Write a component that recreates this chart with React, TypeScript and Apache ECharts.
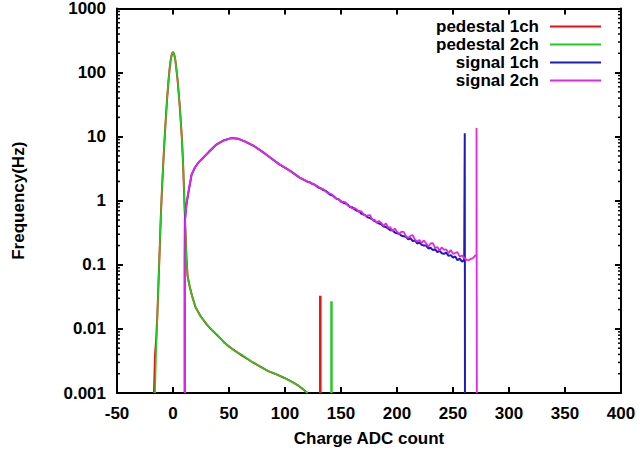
import React, { useEffect, useRef } from "react";
import * as echarts from "echarts";

const seriesNames = ["pedestal 1ch", "pedestal 2ch", "signal 1ch", "signal 2ch"];
const seriesColors = ["#f01010", "#22cc22", "#1c1cbe", "#e626e6"];

const xTicks = { min: -50, max: 400, step: 50 };
const yTicks = { min: 0.001, max: 1000 };

const pedestal1ch: [number, number][] = [
  [-17, 0.001], [-16, 0.004], [-15, 0.007], [-14, 0.016], [-13, 0.05], [-12, 0.15], [-11, 0.5],
  [-10, 1.3], [-9, 3], [-8, 6.5], [-7, 13], [-6, 25], [-5, 45], [-4, 75], [-3, 115], [-2, 160],
  [-1, 195], [0, 210], [1, 195], [2, 160], [3, 115], [4, 80], [5, 50], [6, 30], [7, 17], [8, 9],
  [9, 3.8], [10, 1.2], [11, 0.38], [12, 0.13], [13, 0.068], [14, 0.055], [15, 0.045], [17, 0.033],
  [20, 0.022], [25, 0.0155], [30, 0.0118], [35, 0.0095], [40, 0.0078], [46, 0.0061], [50, 0.0053],
  [55, 0.0046], [61, 0.0039], [70, 0.0031], [76, 0.0027], [85, 0.0022], [91, 0.002], [100, 0.0017],
  [106, 0.0015], [112, 0.0013], [116, 0.00115], [120, 0.001],
];
const pedestal1chSpike: [number, number][] = [[131.5, 0.001], [131.5, 0.033]];

const pedestal2ch: [number, number][] = [
  [-16, 0.001], [-15, 0.005], [-14, 0.015], [-13, 0.048], [-12, 0.16], [-11, 0.48],
  [-10, 1.35], [-9, 3.1], [-8, 6.4], [-7, 13.5], [-6, 24], [-5, 46], [-4, 74], [-3, 117], [-2, 158],
  [-1, 197], [0, 208], [1, 193], [2, 162], [3, 113], [4, 81], [5, 49], [6, 31], [7, 16.5], [8, 9.2],
  [9, 3.7], [10, 1.25], [11, 0.37], [12, 0.135], [13, 0.066], [14, 0.054], [15, 0.046], [17, 0.032],
  [20, 0.0225], [25, 0.0152], [30, 0.012], [35, 0.0094], [40, 0.0079], [46, 0.006], [50, 0.0054],
  [55, 0.0045], [61, 0.004], [70, 0.0031], [76, 0.0027], [85, 0.0022], [91, 0.002], [100, 0.0017],
  [106, 0.0015], [112, 0.0013], [116, 0.00115], [120, 0.001],
];
const pedestal2chSpike: [number, number][] = [[141.5, 0.001], [141.5, 0.027]];

const signal1ch: [number, number][] = [
  [10.4, 0.001], [10.4, 0.12], [10.6, 0.5], [12, 0.88], [13.7, 1.33], [15, 1.78], [16.6, 2.55],
  [19.6, 3.3], [23, 4.0], [27, 4.7], [32, 5.8], [39, 7.6], [45, 8.7], [52, 9.5], [58, 9.3], [65, 8.3],
  [72, 7.2], [80, 5.8], [87, 4.7], [95, 3.7], [105, 2.9], [113, 2.3], [120, 1.98], [122, 1.95],
  [124, 1.84], [126, 1.8], [128, 1.7], [130, 1.6], [132, 1.57], [134, 1.47], [136, 1.44], [138, 1.36],
  [140, 1.25], [142, 1.22], [144, 1.16], [146, 1.07], [148, 1.05], [150, 0.98], [152, 0.93], [154, 0.91],
  [156, 0.87], [158, 0.8], [160, 0.79], [162, 0.74], [164, 0.7], [166, 0.69], [168, 0.63], [170, 0.61],
  [172, 0.59], [174, 0.55], [176, 0.535], [178, 0.51], [180, 0.48], [182, 0.465], [184, 0.44], [186, 0.43],
  [188, 0.395], [190, 0.39], [192, 0.37], [194, 0.345], [196, 0.35], [198, 0.32], [200, 0.31], [202, 0.305],
  [204, 0.285], [206, 0.28], [208, 0.275], [210, 0.25], [212, 0.26], [214, 0.235], [216, 0.24],
  [218, 0.215], [220, 0.225], [222, 0.205], [224, 0.2], [226, 0.2], [228, 0.18], [230, 0.185],
  [232, 0.17], [234, 0.176], [236, 0.158], [238, 0.165], [240, 0.152], [242, 0.148], [244, 0.155],
  [246, 0.138], [248, 0.142], [250, 0.13], [252, 0.135], [254, 0.118], [256, 0.125], [258, 0.112],
  [260, 0.12], [260.5, 0.12], [260.5, 11.3], [260.7, 0.001],
];

const signal2ch: [number, number][] = [
  [10.7, 0.001], [10.7, 0.1], [10.8, 0.49], [12, 0.9], [13.7, 1.35], [15, 1.8], [16.6, 2.6],
  [19.6, 3.3], [23, 4.0], [27, 4.7], [32, 5.8], [39, 7.6], [45, 8.7], [52, 9.5], [58, 9.3], [65, 8.3],
  [72, 7.2], [80, 5.8], [87, 4.7], [95, 3.7], [105, 2.9], [113, 2.3], [120, 2.0], [122, 1.92],
  [124, 1.88], [126, 1.78], [128, 1.72], [130, 1.65], [132, 1.54], [134, 1.53], [136, 1.42], [138, 1.31],
  [140, 1.29], [142, 1.26], [144, 1.13], [146, 1.08], [148, 1.06], [150, 0.95], [152, 0.97], [154, 0.945],
  [156, 0.84], [158, 0.82], [160, 0.75], [162, 0.77], [164, 0.735], [166, 0.66], [168, 0.69], [170, 0.615],
  [172, 0.576], [174, 0.593], [176, 0.594], [178, 0.504], [180, 0.505], [182, 0.451], [184, 0.483],
  [186, 0.449], [188, 0.403], [190, 0.446], [192, 0.382], [194, 0.386], [196, 0.335], [198, 0.369],
  [200, 0.33], [202, 0.304], [204, 0.329], [206, 0.327], [208, 0.281], [210, 0.263], [212, 0.284],
  [214, 0.291], [216, 0.248], [218, 0.231], [220, 0.244], [222, 0.221], [224, 0.24], [226, 0.217],
  [228, 0.193], [230, 0.216], [232, 0.218], [234, 0.184], [236, 0.19], [238, 0.168], [240, 0.188],
  [242, 0.171], [244, 0.174], [246, 0.151], [248, 0.17], [250, 0.148], [252, 0.153], [254, 0.158],
  [256, 0.134], [258, 0.14], [260, 0.129], [262, 0.12], [264, 0.118], [266, 0.124], [268, 0.128],
  [270, 0.14], [271, 0.14], [271, 13.7], [271.3, 0.001],
];

const FONT = "Liberation Sans, Arial, Helvetica, sans-serif";

export default function App() {
  const ref = useRef<HTMLDivElement>(null);
  useEffect(() => {
    if (!ref.current) return;
    const chart = echarts.init(ref.current, undefined, { renderer: "svg" });
    const lineSeries = (name: string, color: string, data: [number, number][], width: number) => ({
      name,
      type: "line",
      data,
      showSymbol: false,
      symbol: "none",
      lineStyle: { color, width },
      itemStyle: { color },
      clip: true,
    });
    const axisLine = { show: true, onZero: false, lineStyle: { color: "#000", width: 2 } };
    const axisTick = { show: true, inside: true, length: 6, lineStyle: { color: "#000", width: 2 } };
    const labelStyle = { color: "#000", fontSize: 17, fontWeight: "bold" as const, fontFamily: FONT };
    const fmt = (v: number) => String(Number(v.toPrecision(2)));
    chart.setOption({
      animation: false,
      backgroundColor: "#fff",
      grid: { left: 117, right: 19, top: 7, bottom: 63 },
      legend: {
        data: seriesNames,
        orient: "vertical",
        align: "right",
        right: 34,
        top: 13,
        icon: "rect",
        itemWidth: 51,
        itemHeight: 2,
        itemGap: 1,
        textStyle: { ...labelStyle, lineHeight: 17, padding: [0, 6, 0, 0] },
      },
      xAxis: [
        {
          type: "value",
          min: xTicks.min,
          max: xTicks.max,
          interval: xTicks.step,
          position: "bottom",
          axisLine,
          axisTick,
          splitLine: { show: false },
          axisLabel: { ...labelStyle, margin: 12 },
          name: "Charge ADC count",
          nameLocation: "middle",
          nameGap: 37,
          nameTextStyle: labelStyle,
        },
        {
          type: "value",
          min: xTicks.min,
          max: xTicks.max,
          interval: xTicks.step,
          position: "top",
          axisLine,
          axisTick,
          splitLine: { show: false },
          axisLabel: { show: false },
        },
      ],
      yAxis: [
        {
          type: "log",
          logBase: 10,
          min: yTicks.min,
          max: yTicks.max,
          interval: 1,
          position: "left",
          axisLine,
          axisTick,
          splitLine: { show: false },
          axisLabel: { ...labelStyle, margin: 11, formatter: fmt },
          name: "Frequency(Hz)",
          nameLocation: "middle",
          nameGap: 90,
          nameRotate: 90,
          nameTextStyle: labelStyle,
        },
        {
          type: "log",
          logBase: 10,
          min: yTicks.min,
          max: yTicks.max,
          interval: 1,
          position: "right",
          axisLine,
          axisTick,
          splitLine: { show: false },
          axisLabel: { show: false },
        },
      ],
      series: [
        lineSeries(seriesNames[0], seriesColors[0], pedestal1ch, 2),
        lineSeries(seriesNames[0], seriesColors[0], pedestal1chSpike, 2.5),
        lineSeries(seriesNames[1], seriesColors[1], pedestal2ch, 1.6),
        lineSeries(seriesNames[1], seriesColors[1], pedestal2chSpike, 2.5),
        lineSeries(seriesNames[2], seriesColors[2], signal1ch, 2),
        lineSeries(seriesNames[3], seriesColors[3], signal2ch, 1.8),
      ],
    });

    // minor log ticks (2..9 per decade) on left and right frame, placed via the axis scale
    const xl = chart.convertToPixel({ xAxisIndex: 0 }, xTicks.min) as number;
    const xr = chart.convertToPixel({ xAxisIndex: 0 }, xTicks.max) as number;
    const minor: any[] = [];
    for (let d = yTicks.min; d < yTicks.max * 0.99; d *= 10) {
      for (let k = 2; k <= 9; k++) {
        const y = chart.convertToPixel({ yAxisIndex: 0 }, d * k) as number;
        minor.push({ type: "line", shape: { x1: xl, y1: y, x2: xl + 3, y2: y }, style: { stroke: "#000", lineWidth: 1.5 } });
        minor.push({ type: "line", shape: { x1: xr - 3, y1: y, x2: xr, y2: y }, style: { stroke: "#000", lineWidth: 1.5 } });
      }
    }
    chart.setOption({ graphic: minor });
    return () => chart.dispose();
  }, []);
  return <div ref={ref} style={{ position: "fixed", left: 0, top: 0, width: 640, height: 456 }} />;
}
